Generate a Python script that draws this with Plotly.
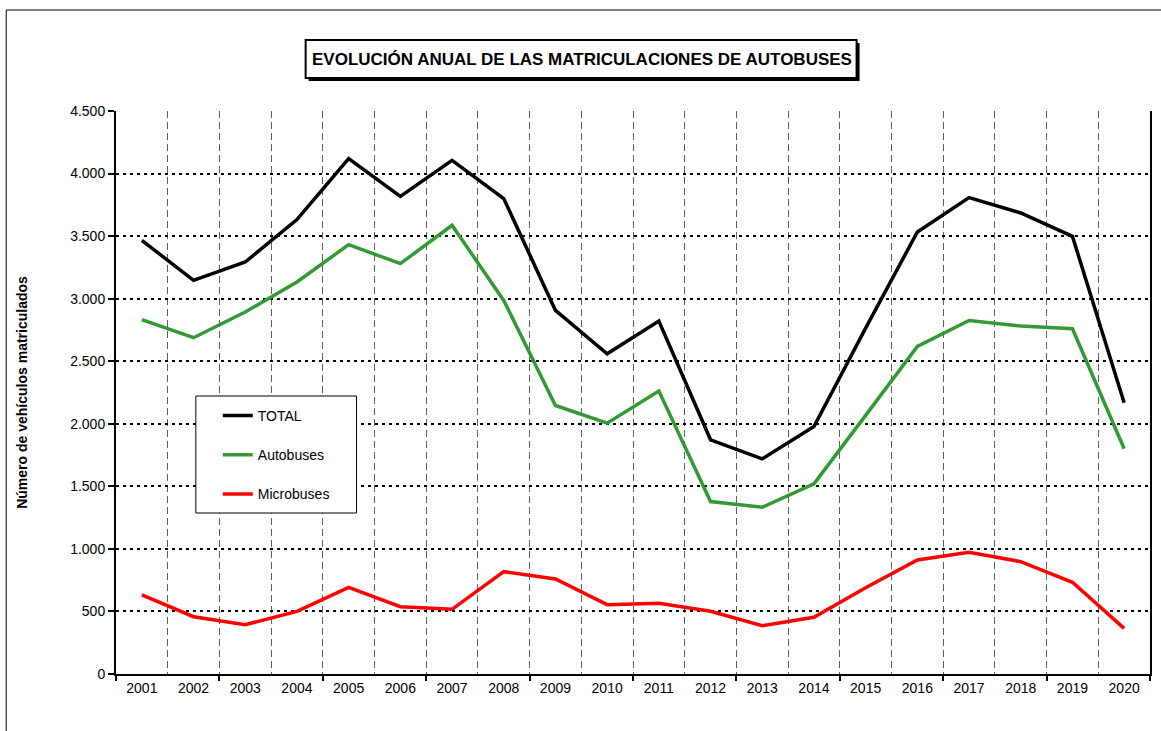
import plotly.graph_objects as go

years = [str(y) for y in range(2001, 2021)]
total = [3466, 3146, 3293, 3632, 4120, 3818, 4106, 3800, 2906, 2560,
         2821, 1872, 1720, 1978, 2765, 3533, 3808, 3685, 3498, 2168]
autobuses = [2832, 2688, 2893, 3133, 3432, 3280, 3586, 2986, 2146, 2005,
             2261, 1378, 1333, 1520, 2067, 2618, 2826, 2781, 2760, 1800]
microbuses = [632, 458, 394, 501, 693, 538, 517, 818, 760, 554,
              565, 501, 386, 453, 690, 912, 973, 898, 733, 365]

series_names = ["TOTAL", "Autobuses", "Microbuses"]
series_colors = ["#000000", "#339933", "#ff0000"]
title_text = "EVOLUCIÓN ANUAL DE LAS MATRICULACIONES DE AUTOBUSES"
y_title = "Número de vehículos matriculados"

W, H = 1161, 731
L, R, T, B = 116, 9, 111, 57
PW, PH = W - L - R, H - T - B
FONT = "Liberation Sans, Arial, sans-serif"


def px(xp):
    return (xp - L) / PW


def py(yp):
    return (H - B - yp) / PH


fig = go.Figure()
for i, (name, vals, col) in enumerate(zip(series_names, [total, autobuses, microbuses], series_colors)):
    fig.add_trace(go.Scatter(x=years, y=vals, name=name, mode="lines",
                             line=dict(color=col, width=3.5),
                             legendgroup=name))

# empty trace to register the tick-only overlay axis
fig.add_trace(go.Scatter(x=[], y=[], xaxis="x2", showlegend=False, hoverinfo="skip"))

shapes = []
# outer chart frame (left and top edges visible)
shapes.append(dict(type="line", xref="paper", yref="paper", x0=px(6), x1=px(1200), y0=py(10), y1=py(10),
                   line=dict(color="black", width=1)))
shapes.append(dict(type="line", xref="paper", yref="paper", x0=px(6), x1=px(6), y0=py(10), y1=py(760),
                   line=dict(color="black", width=1)))
# title box with shadow
shapes.append(dict(type="rect", xref="paper", yref="paper", x0=px(309), x1=px(861), y0=py(81), y1=py(43),
                   fillcolor="black", line=dict(width=0), layer="above"))
shapes.append(dict(type="rect", xref="paper", yref="paper", x0=px(306), x1=px(858), y0=py(78), y1=py(40),
                   fillcolor="white", line=dict(color="black", width=2), layer="above"))
# legend box
shapes.append(dict(type="rect", xref="paper", yref="paper", x0=px(196), x1=px(357), y0=py(513), y1=py(396),
                   fillcolor="white", line=dict(color="black", width=1), layer="above"))

fig.update_layout(
    width=W, height=H,
    margin=dict(l=L, r=R, t=T, b=B, pad=0),
    paper_bgcolor="white", plot_bgcolor="white",
    separators=",.",
    font=dict(family=FONT, size=14, color="black"),
    shapes=shapes,
    annotations=[dict(text="<b>" + title_text + "</b>", xref="paper", yref="paper",
                      x=px(583), y=py(59), xanchor="center", yanchor="middle",
                      showarrow=False, font=dict(size=17, family=FONT, color="black"))],
    showlegend=True,
    legend=dict(x=px(218), y=py(400), xanchor="left", yanchor="top",
                bgcolor="rgba(0,0,0,0)", borderwidth=0,
                font=dict(size=14, family=FONT, color="black"),
                tracegroupgap=18, traceorder="grouped"),
    xaxis=dict(type="category", tickson="boundaries", showgrid=True,
               gridcolor="#606060", griddash="7px,4px", gridwidth=1,
               ticks="", showline=True, linecolor="black", linewidth=2,
               tickfont=dict(size=14), range=[-0.5, 19.5], zeroline=False),
    xaxis2=dict(overlaying="x", anchor="y", side="bottom", range=[0, 20],
                tick0=0, dtick=2, ticks="outside", ticklen=6, tickwidth=1.5,
                tickcolor="black", showticklabels=False, showgrid=False,
                showline=False, zeroline=False),
    yaxis=dict(range=[0, 4500], dtick=500, tickformat=",d",
               showgrid=True, gridcolor="black", griddash="3px,4px", gridwidth=2,
               ticks="outside", ticklen=6, tickwidth=1.5, tickcolor="black",
               showline=True, linecolor="black", linewidth=2, mirror=True,
               zeroline=False, tickfont=dict(size=14),
               title=dict(text="<b>" + y_title + "</b>", font=dict(size=14), standoff=39)),
)

fig.write_html("out.html", config={"displayModeBar": False},
               post_script="document.body.style.margin='0px';")
